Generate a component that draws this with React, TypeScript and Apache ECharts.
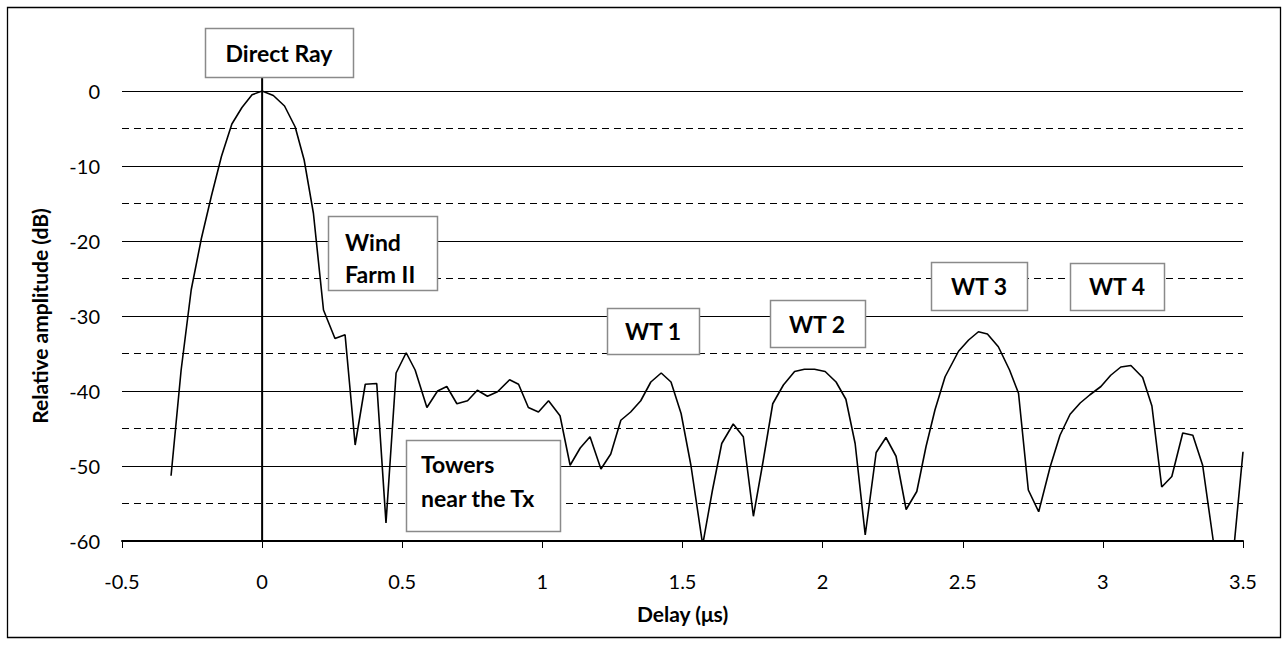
import React, { useEffect, useRef } from "react";
import * as echarts from "echarts";

// Delay (µs) and relative amplitude (dB)
const delays: number[] = [
  -0.325, -0.289, -0.253, -0.217, -0.181, -0.145, -0.108, -0.072, -0.036, 0.0,
  0.04, 0.08, 0.118, 0.15, 0.183, 0.219, 0.26, 0.296, 0.332, 0.368,
  0.409, 0.442, 0.478, 0.514, 0.546, 0.588, 0.626, 0.659, 0.695, 0.733,
  0.768, 0.804, 0.84, 0.883, 0.915, 0.95, 0.986, 1.022, 1.063, 1.099,
  1.135, 1.17, 1.209, 1.244, 1.28, 1.315, 1.351, 1.387, 1.424, 1.459,
  1.495, 1.53, 1.572, 1.607, 1.64, 1.681, 1.717, 1.753, 1.787, 1.822,
  1.86, 1.9, 1.935, 1.971, 2.009, 2.048, 2.083, 2.116, 2.152, 2.191,
  2.226, 2.262, 2.298, 2.336, 2.369, 2.401, 2.437, 2.485, 2.521, 2.556,
  2.588, 2.627, 2.667, 2.699, 2.734, 2.771, 2.812, 2.847, 2.883, 2.919,
  2.954, 2.993, 3.028, 3.064, 3.1, 3.142, 3.175, 3.21, 3.246, 3.285,
  3.321, 3.356, 3.394, 3.43, 3.466, 3.5,
];
const amplitudes: number[] = [
  -51.3, -37.2, -26.5, -19.7, -14.0, -8.7, -4.4, -2.2, -0.5, 0.0,
  -0.6, -2.0, -4.8, -9.2, -16.3, -29.2, -33.0, -32.5, -47.2, -39.1,
  -39.0, -57.6, -37.6, -34.9, -37.2, -42.2, -40.0, -39.4, -41.7, -41.3,
  -39.9, -40.7, -40.1, -38.5, -39.1, -42.2, -42.8, -41.3, -43.3, -49.9,
  -47.6, -46.1, -50.4, -48.4, -43.9, -42.8, -41.3, -38.8, -37.6, -38.8,
  -43.0, -49.9, -60.5, -53.2, -47.0, -44.4, -46.1, -56.7, -49.5, -41.7,
  -39.2, -37.4, -37.1, -37.1, -37.4, -38.8, -41.1, -47.0, -59.2, -48.2,
  -46.2, -48.7, -55.8, -53.4, -47.4, -42.5, -38.1, -34.7, -33.2, -32.1,
  -32.4, -34.1, -37.2, -40.3, -53.2, -56.1, -50.1, -45.9, -43.1, -41.6,
  -40.5, -39.4, -37.9, -36.8, -36.6, -38.2, -42.0, -52.8, -51.4, -45.6,
  -45.9, -49.9, -60.0, -66.0, -61.5, -48.1,
];

const xTitle = "Delay (\u03bcs)";
const yTitle = "Relative amplitude (dB)";

type Note = { text: string; box: [number, number, number, number]; align: "center" | "left"; tx: number; ty: number; lh: number };
const notes: Note[] = [
  { text: "Direct Ray", box: [205, 28, 148, 49], align: "center", tx: 279, ty: 53, lh: 30 },
  { text: "Wind\nFarm II", box: [328, 216, 109, 74], align: "left", tx: 345, ty: 258, lh: 32 },
  { text: "Towers\nnear the Tx", box: [406, 440, 154, 91], align: "left", tx: 421, ty: 481, lh: 34 },
  { text: "WT 1", box: [607, 308, 92, 46], align: "center", tx: 653, ty: 331, lh: 30 },
  { text: "WT 2", box: [770, 300, 95, 47], align: "center", tx: 817, ty: 324, lh: 30 },
  { text: "WT 3", box: [931, 262, 96, 48], align: "center", tx: 979, ty: 286, lh: 30 },
  { text: "WT 4", box: [1070, 263, 94, 47], align: "center", tx: 1117, ty: 286, lh: 30 },
];

const FONT = "Lato, 'DejaVu Sans', sans-serif";

export default function App() {
  const ref = useRef<HTMLDivElement>(null);
  useEffect(() => {
    if (!ref.current) return;
    const chart = echarts.init(ref.current, undefined, { renderer: "svg" });
    const data = delays.map((d, i) => [d, amplitudes[i]]);
    chart.setOption({
      animation: false,
      backgroundColor: "#ffffff",
      textStyle: { fontFamily: FONT },
      grid: { left: 122, right: 44, top: 91, bottom: 105, containLabel: false },
      xAxis: {
        type: "value",
        min: -0.5,
        max: 3.5,
        interval: 0.5,
        name: xTitle,
        nameLocation: "middle",
        nameGap: 62,
        nameTextStyle: { fontFamily: FONT, fontSize: 21, fontWeight: "bold", color: "#000" },
        axisLine: { show: true, onZero: false, lineStyle: { color: "#000", width: 2 } },
        axisTick: { show: true, length: 7, lineStyle: { color: "#000", width: 1 } },
        axisLabel: { fontFamily: FONT, fontSize: 20, color: "#000", margin: 30 },
        splitLine: { show: false },
      },
      yAxis: {
        type: "value",
        min: -60,
        max: 0,
        interval: 10,
        name: yTitle,
        nameLocation: "middle",
        nameGap: 72,
        nameRotate: 90,
        nameTextStyle: { fontFamily: FONT, fontSize: 21, fontWeight: "bold", color: "#000" },
        axisLine: { show: false },
        axisTick: { show: false },
        axisLabel: { fontFamily: FONT, fontSize: 20, color: "#000", margin: 22 },
        splitLine: { show: true, lineStyle: { color: "#000", width: 1.2 } },
        minorTick: { show: false, splitNumber: 2 },
        minorSplitLine: { show: true, lineStyle: { color: "#000", width: 1.2, type: [7, 5] } },
      },
      series: [
        {
          type: "line",
          data,
          showSymbol: false,
          symbol: "none",
          clip: true,
          lineStyle: { color: "#000", width: 1.6 },
          z: 5,
        },
      ],
    });

    const bottom = chart.convertToPixel({ gridIndex: 0 }, [0, -60]) as number[];
    const graphics: any[] = [
      {
        type: "rect",
        shape: { x: 7.5, y: 7.5, width: 1273, height: 630 },
        style: { fill: "none", stroke: "#000", lineWidth: 1.3 },
        z: 0,
        silent: true,
      },
      {
        type: "line",
        shape: { x1: bottom[0], y1: bottom[1], x2: bottom[0], y2: 77 },
        style: { stroke: "#000", lineWidth: 2 },
        z: 10,
        silent: true,
      },
    ];
    notes.forEach((n) => {
      graphics.push({
        type: "rect",
        shape: { x: n.box[0] + 0.5, y: n.box[1] + 0.5, width: n.box[2], height: n.box[3] },
        style: { fill: "#fff", stroke: "#8a8a8a", lineWidth: 1.5 },
        z: 20,
        silent: true,
      });
      graphics.push({
        type: "text",
        x: n.tx,
        y: n.ty,
        style: {
          text: n.text,
          fontFamily: FONT,
          fontSize: 23,
          fontWeight: "bold",
          fill: "#000",
          align: n.align,
          verticalAlign: "middle",
          lineHeight: n.lh,
        },
        z: 21,
        silent: true,
      });
    });
    chart.setOption({ graphic: graphics });

    return () => chart.dispose();
  }, []);
  return (
    <div
      ref={ref}
      style={{ position: "absolute", left: 0, top: 0, width: 1287, height: 646 }}
    />
  );
}
